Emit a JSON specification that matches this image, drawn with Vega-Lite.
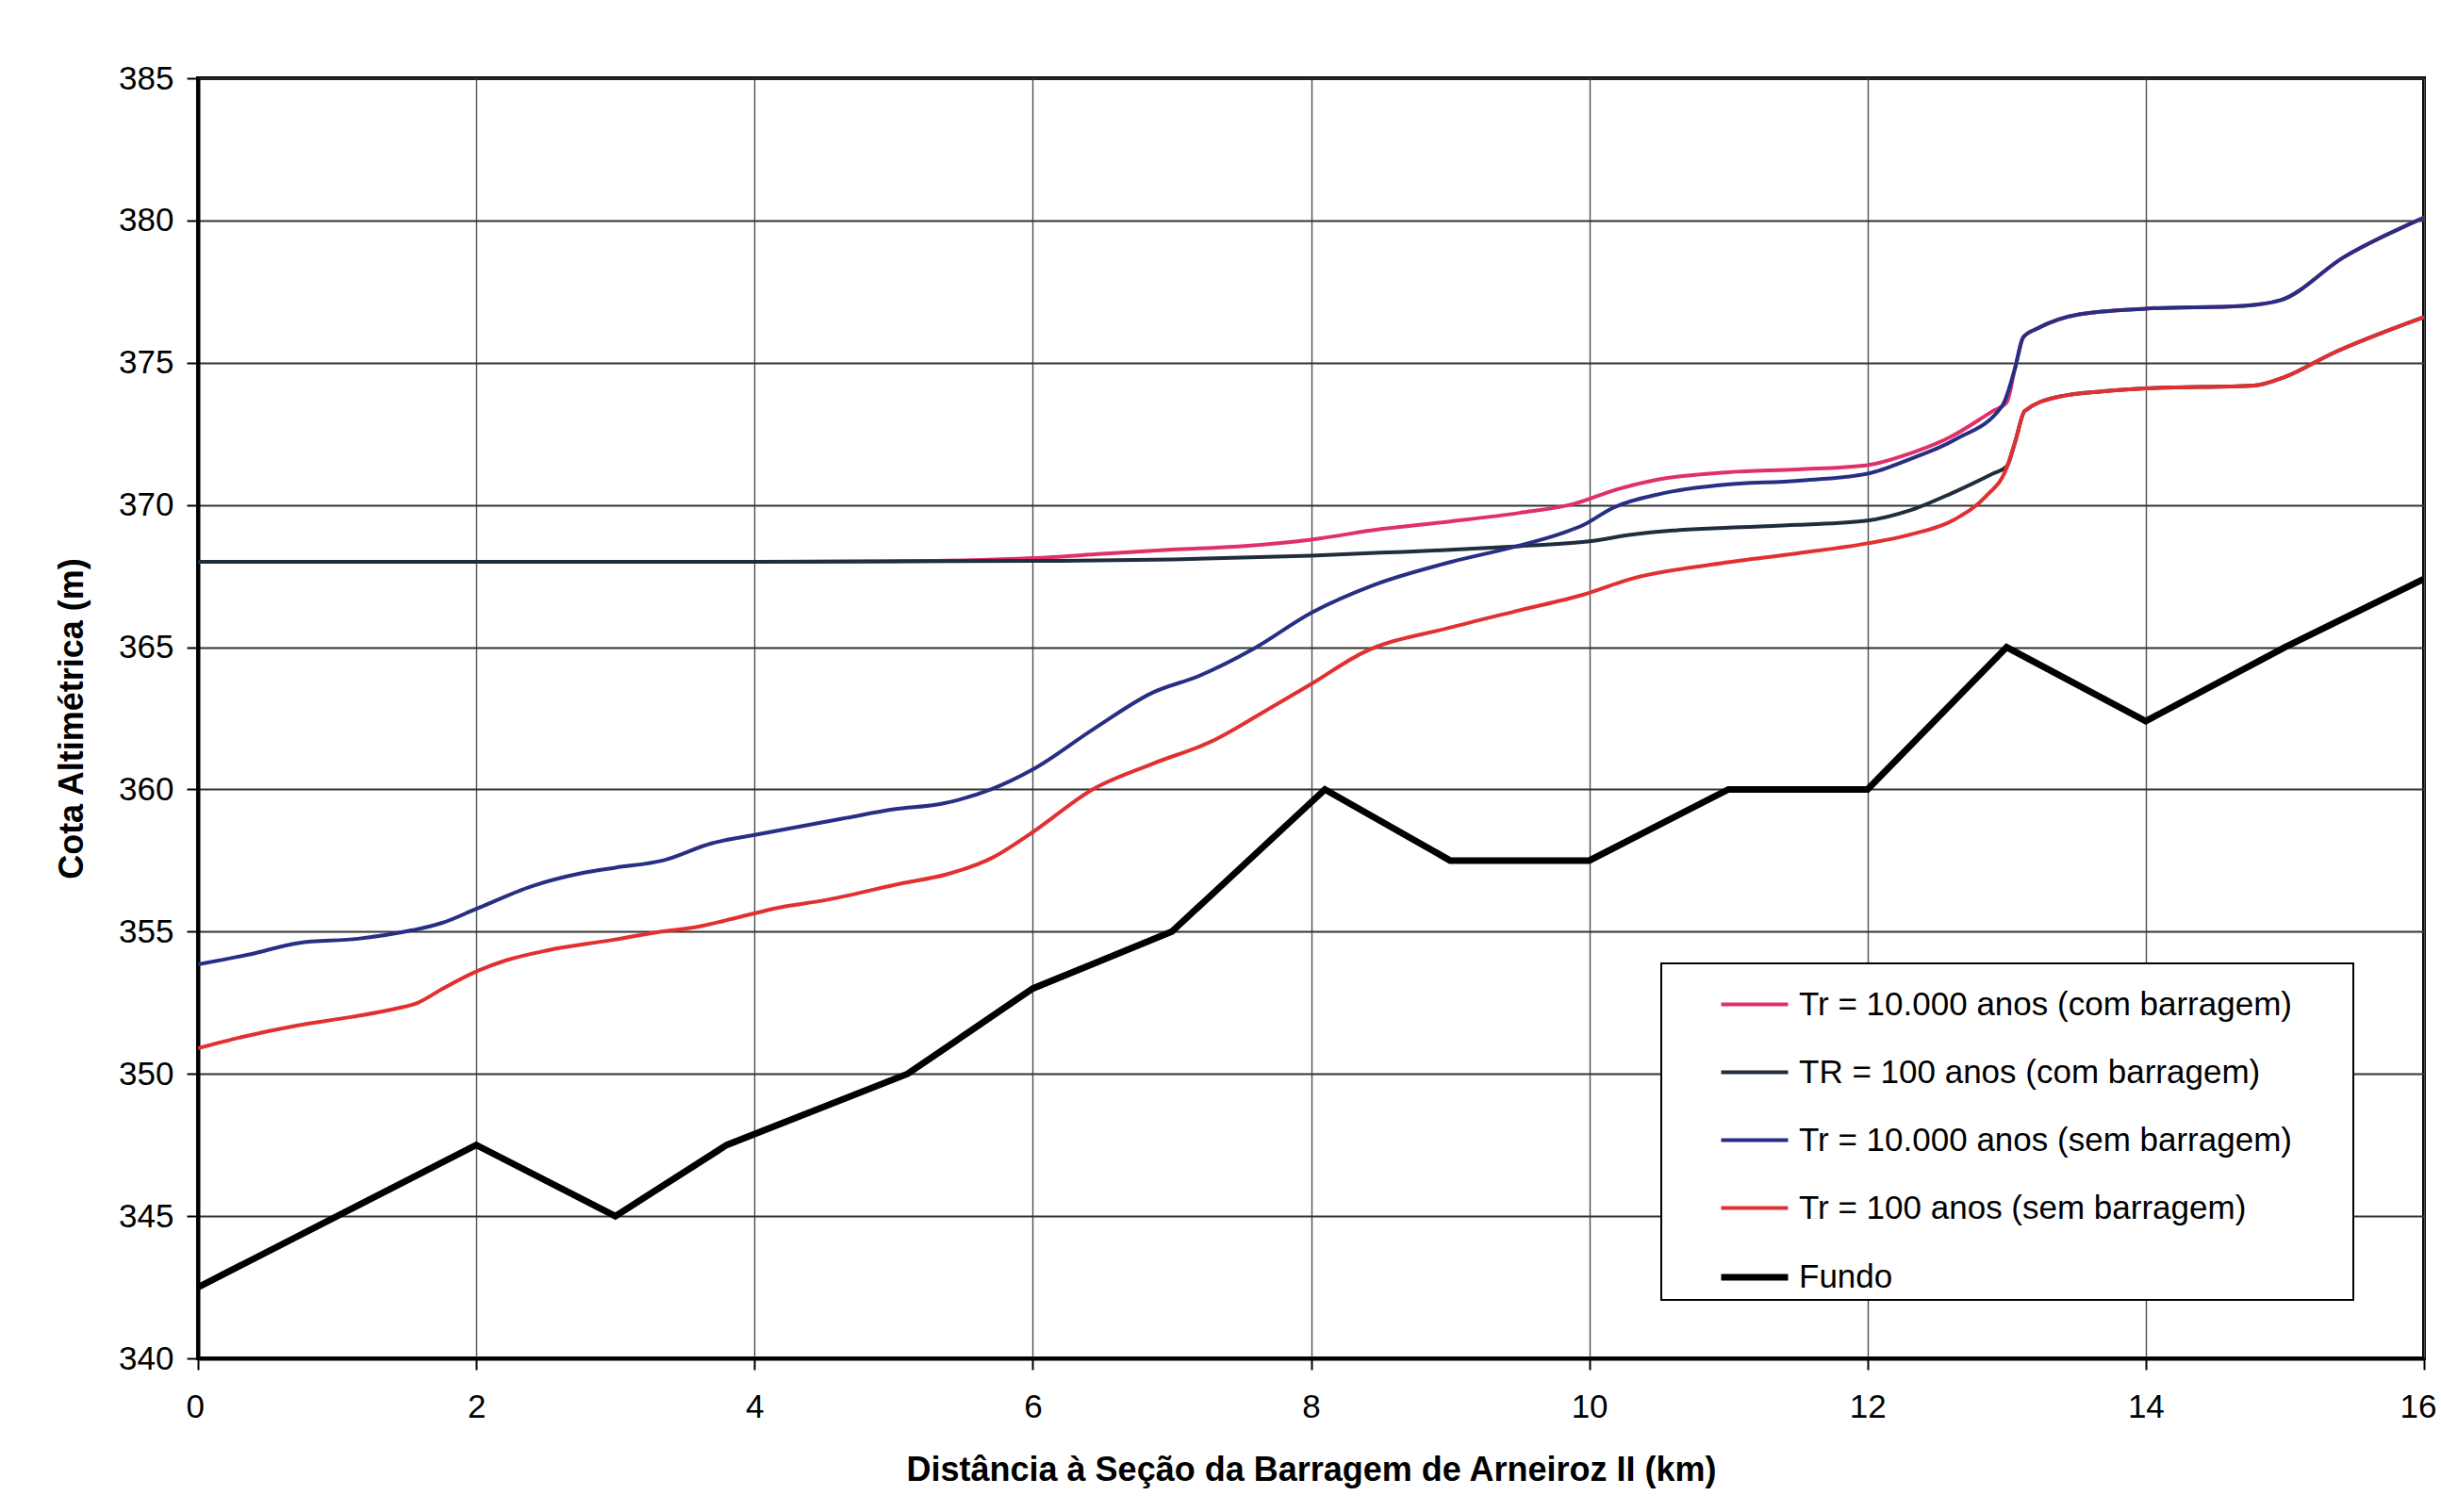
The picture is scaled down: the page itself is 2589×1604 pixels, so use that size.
{
  "$schema": "https://vega.github.io/schema/vega-lite/v6.json",
  "width": 2361,
  "height": 1358,
  "autosize": {"type": "none"},
  "padding": {"left": 210, "top": 83, "right": 18, "bottom": 163},
  "background": "white",
  "config": {
    "font": "Liberation Sans",
    "view": {"stroke": "black", "strokeWidth": 4},
    "axis": {
      "labelFont": "Liberation Sans", "labelFontSize": 35, "labelColor": "black",
      "titleFont": "Liberation Sans", "titleFontSize": 36, "titleFontWeight": "bold", "titleColor": "black",
      "domainColor": "black", "domainWidth": 4,
      "tickColor": "black", "tickWidth": 2, "tickSize": 12,
      "gridColor": "#3a3a3a", "gridOpacity": 1
    },
    "legend": {
      "orient": "none", "legendX": 1552, "legendY": 939,
      "strokeColor": "black", "fillColor": "white", "strokeWidth": 2,
      "padding": 6, "symbolType": "stroke", "symbolSize": 5041, "symbolOffset": 54,
      "labelFont": "Liberation Sans", "labelFontSize": 35, "labelColor": "black",
      "labelOffset": 8, "rowPadding": 16, "labelLimit": 1000
    }
  },
  "datasets": {
    "perfis": [
    {"serie": "Tr = 10.000 anos (com barragem)", "dist": 0, "cota": 368.0},
    {"serie": "Tr = 10.000 anos (com barragem)", "dist": 1, "cota": 368.0},
    {"serie": "Tr = 10.000 anos (com barragem)", "dist": 2, "cota": 368.0},
    {"serie": "Tr = 10.000 anos (com barragem)", "dist": 3, "cota": 368.0},
    {"serie": "Tr = 10.000 anos (com barragem)", "dist": 4, "cota": 368.0},
    {"serie": "Tr = 10.000 anos (com barragem)", "dist": 5, "cota": 368.02},
    {"serie": "Tr = 10.000 anos (com barragem)", "dist": 5.5, "cota": 368.05},
    {"serie": "Tr = 10.000 anos (com barragem)", "dist": 6, "cota": 368.13},
    {"serie": "Tr = 10.000 anos (com barragem)", "dist": 6.5, "cota": 368.28},
    {"serie": "Tr = 10.000 anos (com barragem)", "dist": 7, "cota": 368.43},
    {"serie": "Tr = 10.000 anos (com barragem)", "dist": 7.5, "cota": 368.55},
    {"serie": "Tr = 10.000 anos (com barragem)", "dist": 8, "cota": 368.78},
    {"serie": "Tr = 10.000 anos (com barragem)", "dist": 8.5, "cota": 369.15},
    {"serie": "Tr = 10.000 anos (com barragem)", "dist": 9, "cota": 369.42},
    {"serie": "Tr = 10.000 anos (com barragem)", "dist": 9.5, "cota": 369.72},
    {"serie": "Tr = 10.000 anos (com barragem)", "dist": 9.9, "cota": 370.05},
    {"serie": "Tr = 10.000 anos (com barragem)", "dist": 10.2, "cota": 370.55},
    {"serie": "Tr = 10.000 anos (com barragem)", "dist": 10.5, "cota": 370.9},
    {"serie": "Tr = 10.000 anos (com barragem)", "dist": 11, "cota": 371.15},
    {"serie": "Tr = 10.000 anos (com barragem)", "dist": 11.5, "cota": 371.25},
    {"serie": "Tr = 10.000 anos (com barragem)", "dist": 12, "cota": 371.4},
    {"serie": "Tr = 10.000 anos (com barragem)", "dist": 12.3, "cota": 371.8},
    {"serie": "Tr = 10.000 anos (com barragem)", "dist": 12.6, "cota": 372.4},
    {"serie": "Tr = 10.000 anos (com barragem)", "dist": 12.9, "cota": 373.3},
    {"serie": "Tr = 10.000 anos (com barragem)", "dist": 13.0, "cota": 373.6},
    {"serie": "Tr = 10.000 anos (com barragem)", "dist": 13.06, "cota": 374.8},
    {"serie": "Tr = 10.000 anos (com barragem)", "dist": 13.12, "cota": 375.9},
    {"serie": "Tr = 10.000 anos (com barragem)", "dist": 13.22, "cota": 376.2},
    {"serie": "Tr = 10.000 anos (com barragem)", "dist": 13.52, "cota": 376.7},
    {"serie": "Tr = 10.000 anos (com barragem)", "dist": 14, "cota": 376.9},
    {"serie": "Tr = 10.000 anos (com barragem)", "dist": 14.7, "cota": 377.0},
    {"serie": "Tr = 10.000 anos (com barragem)", "dist": 14.97, "cota": 377.2},
    {"serie": "Tr = 10.000 anos (com barragem)", "dist": 15.42, "cota": 378.7},
    {"serie": "Tr = 10.000 anos (com barragem)", "dist": 16, "cota": 380.1},

    {"serie": "TR = 100 anos (com barragem)", "dist": 0, "cota": 368.0},
    {"serie": "TR = 100 anos (com barragem)", "dist": 2, "cota": 368.0},
    {"serie": "TR = 100 anos (com barragem)", "dist": 4, "cota": 368.0},
    {"serie": "TR = 100 anos (com barragem)", "dist": 6, "cota": 368.03},
    {"serie": "TR = 100 anos (com barragem)", "dist": 7, "cota": 368.08},
    {"serie": "TR = 100 anos (com barragem)", "dist": 8, "cota": 368.22},
    {"serie": "TR = 100 anos (com barragem)", "dist": 8.5, "cota": 368.32},
    {"serie": "TR = 100 anos (com barragem)", "dist": 9, "cota": 368.42},
    {"serie": "TR = 100 anos (com barragem)", "dist": 9.5, "cota": 368.55},
    {"serie": "TR = 100 anos (com barragem)", "dist": 10, "cota": 368.72},
    {"serie": "TR = 100 anos (com barragem)", "dist": 10.3, "cota": 368.95},
    {"serie": "TR = 100 anos (com barragem)", "dist": 10.6, "cota": 369.1},
    {"serie": "TR = 100 anos (com barragem)", "dist": 11, "cota": 369.2},
    {"serie": "TR = 100 anos (com barragem)", "dist": 11.5, "cota": 369.3},
    {"serie": "TR = 100 anos (com barragem)", "dist": 12, "cota": 369.45},
    {"serie": "TR = 100 anos (com barragem)", "dist": 12.3, "cota": 369.8},
    {"serie": "TR = 100 anos (com barragem)", "dist": 12.6, "cota": 370.4},
    {"serie": "TR = 100 anos (com barragem)", "dist": 12.9, "cota": 371.1},
    {"serie": "TR = 100 anos (com barragem)", "dist": 13.0, "cota": 371.35},
    {"serie": "TR = 100 anos (com barragem)", "dist": 13.06, "cota": 372.2},
    {"serie": "TR = 100 anos (com barragem)", "dist": 13.13, "cota": 373.3},
    {"serie": "TR = 100 anos (com barragem)", "dist": 13.37, "cota": 373.8},
    {"serie": "TR = 100 anos (com barragem)", "dist": 13.7, "cota": 374.0},
    {"serie": "TR = 100 anos (com barragem)", "dist": 14, "cota": 374.1},
    {"serie": "TR = 100 anos (com barragem)", "dist": 14.78, "cota": 374.2},
    {"serie": "TR = 100 anos (com barragem)", "dist": 15, "cota": 374.5},
    {"serie": "TR = 100 anos (com barragem)", "dist": 15.33, "cota": 375.3},
    {"serie": "TR = 100 anos (com barragem)", "dist": 16, "cota": 376.6},

    {"serie": "Tr = 10.000 anos (sem barragem)", "dist": 0, "cota": 353.85},
    {"serie": "Tr = 10.000 anos (sem barragem)", "dist": 0.37, "cota": 354.2},
    {"serie": "Tr = 10.000 anos (sem barragem)", "dist": 0.72, "cota": 354.6},
    {"serie": "Tr = 10.000 anos (sem barragem)", "dist": 1.15, "cota": 354.75},
    {"serie": "Tr = 10.000 anos (sem barragem)", "dist": 1.54, "cota": 355.05},
    {"serie": "Tr = 10.000 anos (sem barragem)", "dist": 1.75, "cota": 355.3},
    {"serie": "Tr = 10.000 anos (sem barragem)", "dist": 2, "cota": 355.8},
    {"serie": "Tr = 10.000 anos (sem barragem)", "dist": 2.4, "cota": 356.6},
    {"serie": "Tr = 10.000 anos (sem barragem)", "dist": 2.75, "cota": 357.05},
    {"serie": "Tr = 10.000 anos (sem barragem)", "dist": 3.0, "cota": 357.25},
    {"serie": "Tr = 10.000 anos (sem barragem)", "dist": 3.34, "cota": 357.5},
    {"serie": "Tr = 10.000 anos (sem barragem)", "dist": 3.69, "cota": 358.1},
    {"serie": "Tr = 10.000 anos (sem barragem)", "dist": 4.0, "cota": 358.4},
    {"serie": "Tr = 10.000 anos (sem barragem)", "dist": 4.66, "cota": 359.0},
    {"serie": "Tr = 10.000 anos (sem barragem)", "dist": 5.0, "cota": 359.3},
    {"serie": "Tr = 10.000 anos (sem barragem)", "dist": 5.35, "cota": 359.5},
    {"serie": "Tr = 10.000 anos (sem barragem)", "dist": 5.7, "cota": 360.0},
    {"serie": "Tr = 10.000 anos (sem barragem)", "dist": 6, "cota": 360.7},
    {"serie": "Tr = 10.000 anos (sem barragem)", "dist": 6.43, "cota": 362.1},
    {"serie": "Tr = 10.000 anos (sem barragem)", "dist": 6.86, "cota": 363.4},
    {"serie": "Tr = 10.000 anos (sem barragem)", "dist": 7.2, "cota": 364.0},
    {"serie": "Tr = 10.000 anos (sem barragem)", "dist": 7.59, "cota": 364.95},
    {"serie": "Tr = 10.000 anos (sem barragem)", "dist": 8, "cota": 366.2},
    {"serie": "Tr = 10.000 anos (sem barragem)", "dist": 8.46, "cota": 367.2},
    {"serie": "Tr = 10.000 anos (sem barragem)", "dist": 9.01, "cota": 368.0},
    {"serie": "Tr = 10.000 anos (sem barragem)", "dist": 9.44, "cota": 368.5},
    {"serie": "Tr = 10.000 anos (sem barragem)", "dist": 9.8, "cota": 369.0},
    {"serie": "Tr = 10.000 anos (sem barragem)", "dist": 9.96, "cota": 369.3},
    {"serie": "Tr = 10.000 anos (sem barragem)", "dist": 10.17, "cota": 369.9},
    {"serie": "Tr = 10.000 anos (sem barragem)", "dist": 10.52, "cota": 370.4},
    {"serie": "Tr = 10.000 anos (sem barragem)", "dist": 10.95, "cota": 370.7},
    {"serie": "Tr = 10.000 anos (sem barragem)", "dist": 11.5, "cota": 370.85},
    {"serie": "Tr = 10.000 anos (sem barragem)", "dist": 12, "cota": 371.1},
    {"serie": "Tr = 10.000 anos (sem barragem)", "dist": 12.3, "cota": 371.6},
    {"serie": "Tr = 10.000 anos (sem barragem)", "dist": 12.63, "cota": 372.3},
    {"serie": "Tr = 10.000 anos (sem barragem)", "dist": 12.97, "cota": 373.5},
    {"serie": "Tr = 10.000 anos (sem barragem)", "dist": 13.06, "cota": 374.8},
    {"serie": "Tr = 10.000 anos (sem barragem)", "dist": 13.12, "cota": 375.9},
    {"serie": "Tr = 10.000 anos (sem barragem)", "dist": 13.22, "cota": 376.2},
    {"serie": "Tr = 10.000 anos (sem barragem)", "dist": 13.52, "cota": 376.7},
    {"serie": "Tr = 10.000 anos (sem barragem)", "dist": 14, "cota": 376.9},
    {"serie": "Tr = 10.000 anos (sem barragem)", "dist": 14.7, "cota": 377.0},
    {"serie": "Tr = 10.000 anos (sem barragem)", "dist": 14.97, "cota": 377.2},
    {"serie": "Tr = 10.000 anos (sem barragem)", "dist": 15.42, "cota": 378.7},
    {"serie": "Tr = 10.000 anos (sem barragem)", "dist": 16, "cota": 380.1},

    {"serie": "Tr = 100 anos (sem barragem)", "dist": 0, "cota": 350.9},
    {"serie": "Tr = 100 anos (sem barragem)", "dist": 0.32, "cota": 351.3},
    {"serie": "Tr = 100 anos (sem barragem)", "dist": 0.71, "cota": 351.7},
    {"serie": "Tr = 100 anos (sem barragem)", "dist": 1.1, "cota": 352.0},
    {"serie": "Tr = 100 anos (sem barragem)", "dist": 1.43, "cota": 352.3},
    {"serie": "Tr = 100 anos (sem barragem)", "dist": 1.58, "cota": 352.5},
    {"serie": "Tr = 100 anos (sem barragem)", "dist": 1.76, "cota": 353.0},
    {"serie": "Tr = 100 anos (sem barragem)", "dist": 2.0, "cota": 353.6},
    {"serie": "Tr = 100 anos (sem barragem)", "dist": 2.22, "cota": 354.0},
    {"serie": "Tr = 100 anos (sem barragem)", "dist": 2.52, "cota": 354.35},
    {"serie": "Tr = 100 anos (sem barragem)", "dist": 2.97, "cota": 354.7},
    {"serie": "Tr = 100 anos (sem barragem)", "dist": 3.33, "cota": 355.0},
    {"serie": "Tr = 100 anos (sem barragem)", "dist": 3.57, "cota": 355.15},
    {"serie": "Tr = 100 anos (sem barragem)", "dist": 3.88, "cota": 355.5},
    {"serie": "Tr = 100 anos (sem barragem)", "dist": 4.18, "cota": 355.85},
    {"serie": "Tr = 100 anos (sem barragem)", "dist": 4.5, "cota": 356.1},
    {"serie": "Tr = 100 anos (sem barragem)", "dist": 5.06, "cota": 356.7},
    {"serie": "Tr = 100 anos (sem barragem)", "dist": 5.37, "cota": 357.0},
    {"serie": "Tr = 100 anos (sem barragem)", "dist": 5.71, "cota": 357.6},
    {"serie": "Tr = 100 anos (sem barragem)", "dist": 6.0, "cota": 358.5},
    {"serie": "Tr = 100 anos (sem barragem)", "dist": 6.43, "cota": 360.0},
    {"serie": "Tr = 100 anos (sem barragem)", "dist": 6.86, "cota": 360.9},
    {"serie": "Tr = 100 anos (sem barragem)", "dist": 7.29, "cota": 361.7},
    {"serie": "Tr = 100 anos (sem barragem)", "dist": 7.72, "cota": 362.9},
    {"serie": "Tr = 100 anos (sem barragem)", "dist": 8.0, "cota": 363.7},
    {"serie": "Tr = 100 anos (sem barragem)", "dist": 8.37, "cota": 364.8},
    {"serie": "Tr = 100 anos (sem barragem)", "dist": 9.01, "cota": 365.7},
    {"serie": "Tr = 100 anos (sem barragem)", "dist": 9.5, "cota": 366.3},
    {"serie": "Tr = 100 anos (sem barragem)", "dist": 9.96, "cota": 366.85},
    {"serie": "Tr = 100 anos (sem barragem)", "dist": 10.3, "cota": 367.4},
    {"serie": "Tr = 100 anos (sem barragem)", "dist": 10.95, "cota": 367.95},
    {"serie": "Tr = 100 anos (sem barragem)", "dist": 11.5, "cota": 368.3},
    {"serie": "Tr = 100 anos (sem barragem)", "dist": 12.0, "cota": 368.65},
    {"serie": "Tr = 100 anos (sem barragem)", "dist": 12.3, "cota": 368.95},
    {"serie": "Tr = 100 anos (sem barragem)", "dist": 12.63, "cota": 369.5},
    {"serie": "Tr = 100 anos (sem barragem)", "dist": 12.85, "cota": 370.3},
    {"serie": "Tr = 100 anos (sem barragem)", "dist": 13.0, "cota": 371.3},
    {"serie": "Tr = 100 anos (sem barragem)", "dist": 13.06, "cota": 372.2},
    {"serie": "Tr = 100 anos (sem barragem)", "dist": 13.13, "cota": 373.3},
    {"serie": "Tr = 100 anos (sem barragem)", "dist": 13.37, "cota": 373.8},
    {"serie": "Tr = 100 anos (sem barragem)", "dist": 13.7, "cota": 374.0},
    {"serie": "Tr = 100 anos (sem barragem)", "dist": 14, "cota": 374.1},
    {"serie": "Tr = 100 anos (sem barragem)", "dist": 14.78, "cota": 374.2},
    {"serie": "Tr = 100 anos (sem barragem)", "dist": 15, "cota": 374.5},
    {"serie": "Tr = 100 anos (sem barragem)", "dist": 15.33, "cota": 375.3},
    {"serie": "Tr = 100 anos (sem barragem)", "dist": 16, "cota": 376.6},

    {"serie": "Fundo", "dist": 0, "cota": 342.5},
    {"serie": "Fundo", "dist": 2, "cota": 347.5},
    {"serie": "Fundo", "dist": 3, "cota": 345.0},
    {"serie": "Fundo", "dist": 3.8, "cota": 347.5},
    {"serie": "Fundo", "dist": 5.1, "cota": 350.0},
    {"serie": "Fundo", "dist": 6, "cota": 353.0},
    {"serie": "Fundo", "dist": 7, "cota": 355.0},
    {"serie": "Fundo", "dist": 8.1, "cota": 360.0},
    {"serie": "Fundo", "dist": 9, "cota": 357.5},
    {"serie": "Fundo", "dist": 10, "cota": 357.5},
    {"serie": "Fundo", "dist": 11, "cota": 360.0},
    {"serie": "Fundo", "dist": 12, "cota": 360.0},
    {"serie": "Fundo", "dist": 13, "cota": 365.0},
    {"serie": "Fundo", "dist": 14, "cota": 362.4},
    {"serie": "Fundo", "dist": 15, "cota": 365.0},
    {"serie": "Fundo", "dist": 16, "cota": 367.4}
    ]
  },
  "data": {"name": "perfis"},
  "encoding": {
    "x": {
      "field": "dist", "type": "quantitative",
      "scale": {"domain": [0, 16], "nice": false, "zero": false},
      "axis": {
        "title": "Distância à Seção da Barragem de Arneiroz II (km)",
        "values": [0, 2, 4, 6, 8, 10, 12, 14, 16],
        "gridColor": "#505050", "gridWidth": 1.4,
        "labelPadding": 22, "titlePadding": 32,
        "labelFlush": true, "labelFlushOffset": 13
      }
    },
    "y": {
      "field": "cota", "type": "quantitative",
      "scale": {"domain": [340, 385], "nice": false, "zero": false},
      "axis": {
        "title": "Cota Altimétrica (m)",
        "values": [340, 345, 350, 355, 360, 365, 370, 375, 380, 385],
        "gridColor": "#333333", "gridWidth": 2,
        "labelPadding": 14, "titlePadding": 30
      }
    },
    "color": {
      "field": "serie", "type": "nominal",
      "scale": {
        "domain": ["Tr = 10.000 anos (com barragem)", "TR = 100 anos (com barragem)", "Tr = 10.000 anos (sem barragem)", "Tr = 100 anos (sem barragem)", "Fundo"],
        "range": ["#e0306a", "#1f2d3d", "#262f82", "#e23030", "#000000"]
      },
      "legend": {"title": null, "labelExpr": "datum.label + '\u00a0\u00a0\u00a0\u00a0\u00a0\u00a0\u200b'"}
    },
    "strokeWidth": {
      "field": "serie", "type": "nominal",
      "scale": {
        "type": "ordinal",
        "domain": ["Tr = 10.000 anos (com barragem)", "TR = 100 anos (com barragem)", "Tr = 10.000 anos (sem barragem)", "Tr = 100 anos (sem barragem)", "Fundo"],
        "range": [4, 4, 4, 4, 7]
      },
      "legend": {"title": null, "labelExpr": "datum.label + '\u00a0\u00a0\u00a0\u00a0\u00a0\u00a0\u200b'"}
    },
    "order": {"field": "dist", "type": "quantitative"}
  },
  "layer": [
    {
      "transform": [{"filter": "datum.serie !== 'Fundo'"}],
      "mark": {"type": "line", "clip": true, "interpolate": "monotone"}
    },
    {
      "transform": [{"filter": "datum.serie === 'Fundo'"}],
      "mark": {"type": "line", "clip": true}
    }
  ]
}
